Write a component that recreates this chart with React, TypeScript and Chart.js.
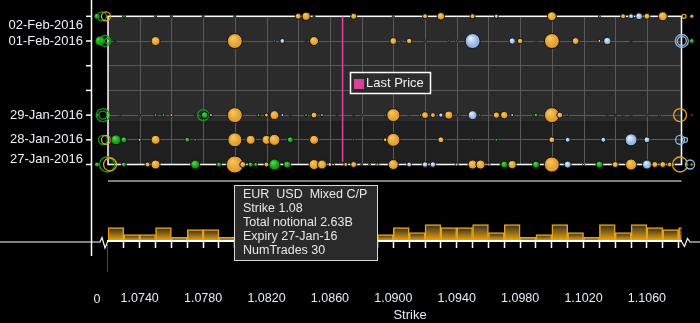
import React, { useEffect, useRef } from 'react';
import { Chart, registerables } from 'chart.js';

Chart.register(...registerables);

// [strike, notional (USD m), kind]  kind: M = mixed (gold), P = put (blue), C = call (green); lower case = outside-range aggregate ring
type Trade = [number, number, string];

const expiryLabels = ['27-Jan-2016', '28-Jan-2016', '29-Jan-2016', '01-Feb-2016', '02-Feb-2016'];
const expiryDays = [0, 1, 2, 5, 6];

const jan27: Trade[] = [
  [1.07131, 290, 'C'], [1.07194, 2080, 'c'], [1.07213, 1590, 'm'], [1.0730, 290, 'C'], [1.0745, 290, 'M'],
  [1.0750, 810, 'M'], [1.0775, 810, 'C'], [1.0790, 290, 'C'], [1.0800, 2630, 'M'], [1.0805, 400, 'M'],
  [1.0810, 290, 'C'], [1.08132, 200, 'C'], [1.0820, 290, 'M'], [1.0825, 1170, 'C'], [1.0833, 520, 'C'],
  [1.0850, 983, 'M'], [1.0855, 810, 'M'], [1.0860, 200, 'P'], [1.0862, 130, 'M'], [1.0870, 200, 'M'],
  [1.0875, 400, 'M'], [1.0880, 33, 'C'], [1.0885, 73, 'C'], [1.0890, 130, 'M'], [1.0900, 983, 'M'],
  [1.0910, 290, 'P'], [1.0920, 354, 'P'], [1.0925, 354, 'P'], [1.0940, 130, 'P'], [1.0950, 810, 'M'],
  [1.0955, 810, 'M'], [1.0960, 130, 'M'], [1.0969, 290, 'M'], [1.0970, 520, 'C'], [1.0975, 658, 'M'],
  [1.0990, 520, 'C'], [1.1000, 2080, 'M'], [1.1010, 520, 'P'], [1.1020, 33, 'P'], [1.1030, 520, 'C'],
  [1.1040, 400, 'M'], [1.1050, 1170, 'M'], [1.1060, 810, 'P'], [1.1065, 400, 'M'], [1.1070, 400, 'M'],
  [1.10745, 290, 'M'], [1.10763, 130, 'M'], [1.10809, 2080, 'm'], [1.10851, 200, 'C'], [1.10872, 810, 'p'],
  [1.10883, 130, 'M'],
];

const jan28: Trade[] = [
  [1.07168, 810, 'c'], [1.07187, 810, 'm'], [1.0725, 983, 'C'], [1.0730, 400, 'C'], [1.0740, 130, 'P'],
  [1.0750, 810, 'M'], [1.0770, 290, 'C'], [1.0775, 130, 'C'], [1.0800, 1830, 'M'], [1.0810, 810, 'M'],
  [1.0820, 810, 'M'], [1.0825, 1170, 'M'], [1.0835, 400, 'C'], [1.0850, 810, 'M'], [1.0875, 73, 'M'],
  [1.0895, 200, 'M'], [1.0900, 1590, 'M'], [1.0930, 400, 'M'], [1.0933, 33, 'C'], [1.0950, 73, 'M'],
  [1.0965, 130, 'C'], [1.1000, 400, 'M'], [1.1010, 290, 'P'], [1.10325, 290, 'P'], [1.1050, 1370, 'P'],
  [1.10545, 73, 'P'], [1.1060, 400, 'P'], [1.10809, 810, 'p'], [1.10840, 290, 'p'],
];

const jan29: Trade[] = [
  [1.07131, 200, 'C'], [1.07168, 1590, 'c'], [1.07168, 660, 'c'], [1.07275, 73, 'M'], [1.0740, 33, 'C'],
  [1.0750, 130, 'C'], [1.0755, 130, 'C'], [1.0760, 130, 'M'], [1.0775, 33, 'C'], [1.0780, 1170, 'c'],
  [1.0781, 520, 'C'], [1.0785, 130, 'P'], [1.0800, 2080, 'M'], [1.0815, 130, 'C'], [1.0820, 200, 'M'],
  [1.08225, 73, 'P'], [1.0825, 810, 'M'], [1.0830, 130, 'P'], [1.0835, 33, 'C'], [1.0845, 130, 'C'],
  [1.0850, 400, 'M'], [1.0855, 130, 'M'], [1.08645, 33, 'C'], [1.0875, 33, 'C'], [1.0880, 73, 'M'],
  [1.0895, 33, 'P'], [1.0900, 1590, 'M'], [1.0910, 33, 'P'], [1.09175, 130, 'M'], [1.0920, 520, 'M'],
  [1.0925, 290, 'M'], [1.0930, 240, 'P'], [1.0935, 660, 'M'], [1.0940, 33, 'P'], [1.0942, 33, 'P'],
  [1.0950, 810, 'P'], [1.09545, 33, 'P'], [1.0965, 445, 'M'], [1.0970, 600, 'M'], [1.0975, 130, 'P'],
  [1.09884, 73, 'M'], [1.0990, 200, 'C'], [1.1000, 2080, 'M'], [1.1005, 400, 'M'], [1.1010, 33, 'P'],
  [1.1035, 33, 'C'], [1.1040, 33, 'C'], [1.1045, 73, 'M'], [1.1050, 73, 'M'], [1.1060, 33, 'P'],
  [1.10678, 73, 'M'], [1.10809, 1590, 'm'], [1.10883, 33, 'P'],
];

const feb01: Trade[] = [
  [1.07150, 980, 'C'], [1.07181, 1170, 'c'], [1.07194, 290, 'c'], [1.07245, 33, 'C'], [1.0750, 810, 'M'],
  [1.0796, 33, 'M'], [1.0800, 2080, 'M'], [1.0825, 73, 'P'], [1.0830, 290, 'P'], [1.0845, 73, 'C'],
  [1.0850, 810, 'M'], [1.0900, 520, 'M'], [1.0905, 33, 'P'], [1.0910, 354, 'M'], [1.0920, 33, 'P'],
  [1.0935, 33, 'P'], [1.0940, 73, 'P'], [1.0950, 2080, 'P'], [1.0975, 445, 'P'], [1.0980, 354, 'M'],
  [1.0990, 33, 'P'], [1.1000, 2080, 'M'], [1.1015, 520, 'M'], [1.1030, 130, 'P'], [1.1035, 600, 'P'],
  [1.1050, 33, 'C'], [1.10820, 1590, 'p'], [1.10820, 810, 'p'], [1.10883, 290, 'C'],
];

const feb02: Trade[] = [
  [1.07131, 400, 'C'], [1.07162, 810, 'c'], [1.07187, 810, 'm'], [1.0730, 130, 'C'], [1.0750, 33, 'C'],
  [1.0760, 33, 'C'], [1.0780, 33, 'C'], [1.0800, 33, 'C'], [1.0840, 400, 'M'], [1.0845, 660, 'M'],
  [1.0850, 33, 'C'], [1.0875, 400, 'M'], [1.0900, 33, 'P'], [1.0920, 290, 'M'], [1.0930, 600, 'M'],
  [1.0950, 290, 'M'], [1.0965, 200, 'P'], [1.1000, 810, 'M'], [1.1030, 33, 'P'], [1.1045, 290, 'M'],
  [1.1050, 290, 'P'], [1.1055, 520, 'P'], [1.1060, 400, 'M'], [1.1070, 810, 'M'], [1.10834, 200, 'm'],
  [1.10883, 200, 'M'],
];

const expiryRows = [jan27, jan28, jan29, feb01, feb02];

// histogram: total notional per 0.001 strike bin (bin centres), USD bn
const histStrikes = [
  1.0725, 1.0735, 1.0745, 1.0755, 1.0765, 1.0775, 1.0785, 1.0795, 1.0805, 1.0815, 1.0825, 1.0835, 1.0845,
  1.0855, 1.0865, 1.0875, 1.0885, 1.0895, 1.0905, 1.0915, 1.0925, 1.0935, 1.0945, 1.0955, 1.0965, 1.0975,
  1.0985, 1.0995, 1.1005, 1.1015, 1.1025, 1.1035, 1.1045, 1.1055, 1.1065, 1.1075, 1.1085,
];
const histNotional = [
  6.7, 3.2, 3.2, 6.7, 1.85, 5.7, 5.7, 1.85, 8.2, 5.7, 6.7, 4.2, 5.7,
  6.7, 3.2, 4.2, 3.2, 3.2, 6.7, 4.2, 8.2, 6.7, 6.7, 8.2, 4.2, 8.2,
  1.85, 3.2, 8.2, 4.2, 1.85, 8.2, 4.2, 8.2, 6.7, 5.7, 6.7,
];

const strikeLabels = ['1.0740', '1.0780', '1.0820', '1.0860', '1.0900', '1.0940', '1.0980', '1.1020', '1.1060'];
const lastPrice = 1.0868;
const tooltipLines = ['EUR  USD  Mixed C/P', 'Strike 1.08', 'Total notional 2.63B', 'Expiry 27-Jan-16', 'NumTrades 30'];

const X_MIN = 1.072;
const X_MAX = 1.10818;
const Y_MIN = -3.097;
const Y_MAX = 6;
const FONT = 'Liberation Sans, Arial, sans-serif';

const palette: Record<string, { base: string; hi: string }> = {
  M: { base: '#e2a02c', hi: '#f7c766' },
  P: { base: '#93b7e0', hi: '#e6f1fd' },
  C: { base: '#159a15', hi: '#58d858' },
};

const radiusFor = (n: number) => Math.max(1, 0.1755 * Math.sqrt(n) - 0.5);
const ok = (...v: number[]) => v.every((n) => typeof n === 'number' && isFinite(n));
const noPad = (s: any) => {
  s.paddingTop = 0;
  s.paddingBottom = 0;
  s.paddingLeft = 0;
  s.paddingRight = 0;
};

function bubbleDataset(row: Trade[], day: number) {
  const kindAt = (i: number) => (row[i] ? row[i][2] : 'M');
  return {
    type: 'bubble' as const,
    data: row.map(([s, n]) => ({ x: s, y: day, r: radiusFor(n) })),
    clip: false as any,
    yAxisID: 'y',
    order: 1,
    backgroundColor: (ctx: any) => {
      const k = kindAt(ctx.dataIndex);
      const pal = palette[k.toUpperCase()];
      if (k !== k.toUpperCase()) return 'rgba(0,0,0,0)';
      const raw = ctx.raw;
      const chart = ctx.chart;
      if (!raw || !chart.scales || !chart.scales.x || !chart.scales.y) return pal.base;
      const px = chart.scales.x.getPixelForValue(raw.x);
      const py = chart.scales.y.getPixelForValue(raw.y);
      const r = raw.r;
      if (!ok(px, py, r)) return pal.base;
      const g = chart.ctx.createRadialGradient(px - r * 0.3, py - r * 0.4, r * 0.05, px, py, r);
      g.addColorStop(0, pal.hi);
      g.addColorStop(0.75, pal.base);
      g.addColorStop(1, pal.base);
      return g;
    },
    borderColor: (ctx: any) => {
      const k = kindAt(ctx.dataIndex);
      return k !== k.toUpperCase() ? palette[k.toUpperCase()].base : '#111111';
    },
    borderWidth: (ctx: any) => {
      const k = kindAt(ctx.dataIndex);
      return k !== k.toUpperCase() ? 1.3 : 1;
    },
  };
}

const decorPlugin = {
  id: 'decor',
  beforeDraw(chart: any) {
    const { ctx, chartArea: a, scales } = chart;
    const y = scales.y;
    const top = y.getPixelForValue(6);
    const bot = y.getPixelForValue(0);
    const split = y.getPixelForValue(1.76);
    ctx.save();
    ctx.fillStyle = '#000';
    ctx.fillRect(0, 0, chart.width, chart.height);
    ctx.fillStyle = '#2b2b2b';
    ctx.fillRect(a.left, top, a.right - a.left, split - top);
    ctx.fillStyle = '#1f1f1f';
    ctx.fillRect(a.left, split, a.right - a.left, bot - split);
    ctx.restore();
  },
  beforeDatasetsDraw(chart: any) {
    const { ctx, chartArea: a, scales } = chart;
    const x = scales.x;
    const y = scales.y;
    const top = y.getPixelForValue(6);
    const bot = y.getPixelForValue(0);
    ctx.save();
    ctx.strokeStyle = '#5a5a5a';
    ctx.lineWidth = 1;
    for (let k = 1074; k <= 1106; k += 2) {
      const px = Math.round(x.getPixelForValue(k / 1000)) + 0.5;
      ctx.beginPath();
      ctx.moveTo(px, top);
      ctx.lineTo(px, bot);
      ctx.stroke();
    }
    ctx.strokeStyle = '#ffffff';
    ctx.lineWidth = 1.5;
    ctx.strokeRect(a.left, top, a.right - a.left, bot - top);
    ctx.restore();
  },
  // bubbles for strikes outside the visible range sit just beyond the plot edge: draw them too
  beforeDatasetDraw(chart: any, args: any) {
    const meta = args.meta;
    if (meta.type !== 'bubble') return;
    const area = { left: 0, top: 0, right: chart.width, bottom: chart.height };
    const ctx = chart.ctx;
    ctx.save();
    meta.data.forEach((el: any) => el.draw(ctx, area));
    ctx.restore();
    return false;
  },
  afterDraw(chart: any) {
    const { ctx, chartArea: a, scales } = chart;
    const y = scales.y;
    ctx.save();
    ctx.strokeStyle = '#ffffff';
    ctx.lineWidth = 1.5;
    ctx.beginPath();
    ctx.moveTo(91.5, 0);
    ctx.lineTo(91.5, 256);
    ctx.stroke();
    for (let d = 0; d <= 6; d++) {
      const py = y.getPixelForValue(d);
      ctx.beginPath();
      ctx.moveTo(86, py);
      ctx.lineTo(91.5, py);
      ctx.stroke();
    }
    ctx.lineWidth = 1.2;
    ctx.beginPath();
    ctx.moveTo(a.left, 181);
    ctx.lineTo(a.right, 181);
    ctx.stroke();
    ctx.beginPath();
    ctx.moveTo(0, 242);
    ctx.lineTo(100, 242);
    ctx.lineTo(102, 237.5);
    ctx.lineTo(105, 248);
    ctx.lineTo(108, 241);
    ctx.stroke();
    ctx.beginPath();
    ctx.moveTo(a.right, 241.5);
    ctx.lineTo(684.5, 246.5);
    ctx.lineTo(687.5, 238.5);
    ctx.lineTo(690, 242);
    ctx.lineTo(700, 242);
    ctx.stroke();
    ctx.strokeStyle = '#4a4a4a';
    ctx.lineWidth = 1;
    ctx.beginPath();
    ctx.moveTo(107.5, 243);
    ctx.lineTo(107.5, 272);
    ctx.stroke();
    ctx.fillStyle = '#e6ecf5';
    ctx.font = `12.5px ${FONT}`;
    ctx.textAlign = 'center';
    ctx.textBaseline = 'middle';
    ctx.fillText('0', 97, 300);
    ctx.font = `13px ${FONT}`;
    ctx.fillText('Strike', 410, 315);
    ctx.fillStyle = '#2b2b2b';
    ctx.fillRect(350.5, 72.5, 80, 21);
    ctx.strokeStyle = '#ffffff';
    ctx.lineWidth = 1.5;
    ctx.strokeRect(350.5, 72.5, 80, 21);
    ctx.fillStyle = '#d8409a';
    ctx.fillRect(354, 79, 10, 10);
    ctx.fillStyle = '#f2f2f2';
    ctx.textAlign = 'left';
    ctx.font = `13px ${FONT}`;
    ctx.fillText('Last Price', 366, 83.5);
    ctx.fillStyle = '#2a2a2a';
    ctx.fillRect(234.5, 185.5, 143, 75);
    ctx.strokeStyle = '#d8d8d8';
    ctx.lineWidth = 1;
    ctx.strokeRect(234.5, 185.5, 143, 75);
    ctx.fillStyle = '#e8e8e8';
    ctx.font = `12.5px ${FONT}`;
    tooltipLines.forEach((t, i) => ctx.fillText(t, 243, 195 + i * 14));
    ctx.restore();
  },
};

export default function App() {
  const ref = useRef<HTMLCanvasElement>(null);
  useEffect(() => {
    document.body.style.margin = '0';
    document.body.style.background = '#000';
    const datasets: any[] = expiryRows.map((row, i) => bubbleDataset(row, expiryDays[i]));
    datasets.push({
      type: 'line',
      data: [
        { x: lastPrice, y: 6 },
        { x: lastPrice, y: 0.1 },
      ],
      borderColor: '#e0449a',
      borderWidth: 1.5,
      pointRadius: 0,
      yAxisID: 'y',
      order: 15,
    });
    datasets.push({
      type: 'bar',
      data: histStrikes.map((s, i) => ({ x: s, y: histNotional[i] })),
      yAxisID: 'y2',
      order: 20,
      barPercentage: 1,
      categoryPercentage: 1,
      borderColor: '#eaa21a',
      borderWidth: 1.5,
      borderSkipped: 'start',
      backgroundColor: (ctx: any) => {
        const chart = ctx.chart;
        const raw = ctx.raw;
        if (!raw || !chart.scales || !chart.scales.y2) return '#c88a10';
        const s = chart.scales.y2;
        const top = s.getPixelForValue(raw.y);
        const base = s.getPixelForValue(0);
        if (!ok(top, base) || top === base) return '#c88a10';
        const g = chart.ctx.createLinearGradient(0, top, 0, base);
        g.addColorStop(0, '#302d26');
        g.addColorStop(1, '#f7a800');
        return g;
      },
    });

    const chart = new Chart(ref.current as HTMLCanvasElement, {
      type: 'bubble',
      data: { datasets },
      options: {
        responsive: false,
        animation: false,
        devicePixelRatio: 1,
        events: [],
        layout: { padding: { top: 16.3, right: 18.5, left: 0, bottom: 0 } },
        plugins: { legend: { display: false }, tooltip: { enabled: false } },
        scales: {
          x: {
            type: 'linear',
            position: 'bottom',
            min: X_MIN,
            max: X_MAX,
            offset: false,
            afterBuildTicks: (s: any) => {
              const t = [];
              for (let k = 1073; k <= 1108; k++) t.push({ value: k / 1000 });
              s.ticks = t;
            },
            afterFit: (s: any) => {
              s.height = 82;
              noPad(s);
            },
            ticks: {
              autoSkip: false,
              maxRotation: 0,
              padding: 43,
              color: '#e6ecf5',
              font: { family: FONT, size: 12.5 },
              callback: (v: any) => {
                const s = Number(v).toFixed(4);
                return strikeLabels.includes(s) ? s : '';
              },
            },
            grid: { offset: false, drawOnChartArea: false, drawTicks: true, tickLength: 7, tickColor: '#ffffff', tickWidth: 1.5 },
            border: { display: true, color: '#ffffff', width: 2, z: 1 },
          },
          y: {
            type: 'linear',
            position: 'left',
            min: Y_MIN,
            max: Y_MAX,
            offset: false,
            afterBuildTicks: (s: any) => {
              const t = [];
              for (let d = 0; d <= 6; d++) t.push({ value: d });
              s.ticks = t;
            },
            afterFit: (s: any) => {
              s.width = 0;
              noPad(s);
            },
            ticks: { display: false },
            grid: { color: '#5a5a5a', lineWidth: 1, drawTicks: false },
            border: { display: false },
          },
          yl: {
            type: 'linear',
            position: 'left',
            min: Y_MIN,
            max: Y_MAX,
            offset: false,
            afterBuildTicks: (s: any) => {
              s.ticks = expiryDays.map((d, i) => ({
                value: i === 0 ? d + 0.21 : i === expiryDays.length - 1 ? d - 0.38 : d,
              }));
            },
            afterFit: (s: any) => {
              s.width = 108;
              noPad(s);
            },
            ticks: {
              autoSkip: false,
              padding: 25,
              color: '#eef2f8',
              font: { family: FONT, size: 13 },
              callback: (_v: any, i: number) => expiryLabels[i],
            },
            grid: { display: false, drawTicks: false },
            border: { display: false },
          },
          y2: {
            type: 'linear',
            display: false,
            min: 0,
            max: 112.35,
          },
        },
      } as any,
      plugins: [decorPlugin],
    } as any);
    return () => chart.destroy();
  }, []);
  return (
    <div style={{ position: 'absolute', left: 0, top: 0, width: 700, height: 323, background: '#000' }}>
      <canvas ref={ref} width={700} height={323} style={{ display: 'block', width: 700, height: 323 }} />
    </div>
  );
}
